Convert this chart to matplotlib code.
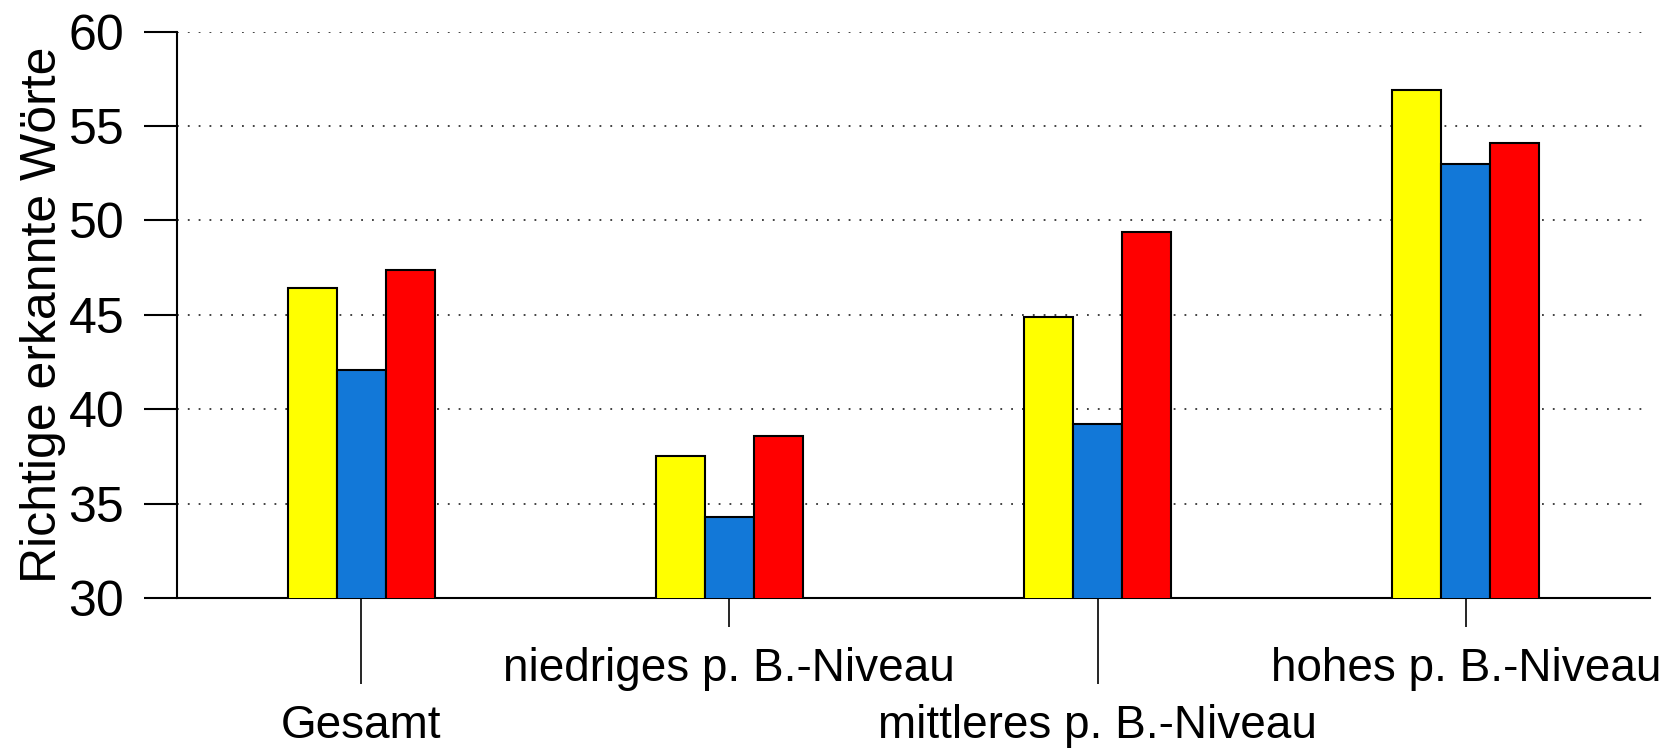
import numpy as np
import matplotlib
matplotlib.use('Agg')
import matplotlib.pyplot as plt

# Data
groups = ['Gesamt', 'niedriges p. B.-Niveau', 'mittleres p. B.-Niveau', 'hohes p. B.-Niveau']
yellow = [46.4, 37.5, 44.9, 56.9]
blue = [42.1, 34.3, 39.2, 53.0]
red = [47.4, 38.6, 49.4, 54.1]
yticks = [30, 35, 40, 45, 50, 55, 60]

plt.rcParams['font.family'] = ['Liberation Sans', 'DejaVu Sans']

fig = plt.figure(figsize=(16.7, 7.49), dpi=100)
ax = fig.add_axes([0.106, 0.2016, 0.882, 0.7561])

x = np.arange(len(groups))
w = 0.133
ax.bar(x - w, yellow, w, color='#ffff00', edgecolor='black', linewidth=1.5, zorder=3)
ax.bar(x, blue, w, color='#1278d8', edgecolor='black', linewidth=1.5, zorder=3)
ax.bar(x + w, red, w, color='#ff0000', edgecolor='black', linewidth=1.5, zorder=3)

ax.set_ylim(30, 60)
ax.set_xlim(-0.5, 3.5)
ax.set_yticks(yticks)
ax.tick_params(axis='y', labelsize=36, length=24, width=1.5, pad=14)

# dotted gridlines, none on the baseline
for v in yticks[1:]:
    ax.axhline(v, color='#333333', linestyle=(0, (1, 5)), linewidth=1.3, zorder=1)

# staggered x labels: long ticks on 0 and 2, short ones on 1 and 3
ax.set_xticks([0, 2])
ax.set_xticklabels([groups[0], groups[2]])
ax.set_xticks([1, 3], minor=True)
ax.set_xticklabels([groups[1], groups[3]], minor=True)
ax.tick_params(axis='x', which='major', labelsize=33, length=62, width=1.2, pad=14)
ax.tick_params(axis='x', which='minor', labelsize=33, length=21, width=1.2, pad=14)

ax.set_ylabel('Richtige erkannte Wörte', fontsize=36, labelpad=2)

for s in ['top', 'right']:
    ax.spines[s].set_visible(False)
for s in ['left', 'bottom']:
    ax.spines[s].set_linewidth(1.5)

fig.savefig('out.png', dpi=100)
